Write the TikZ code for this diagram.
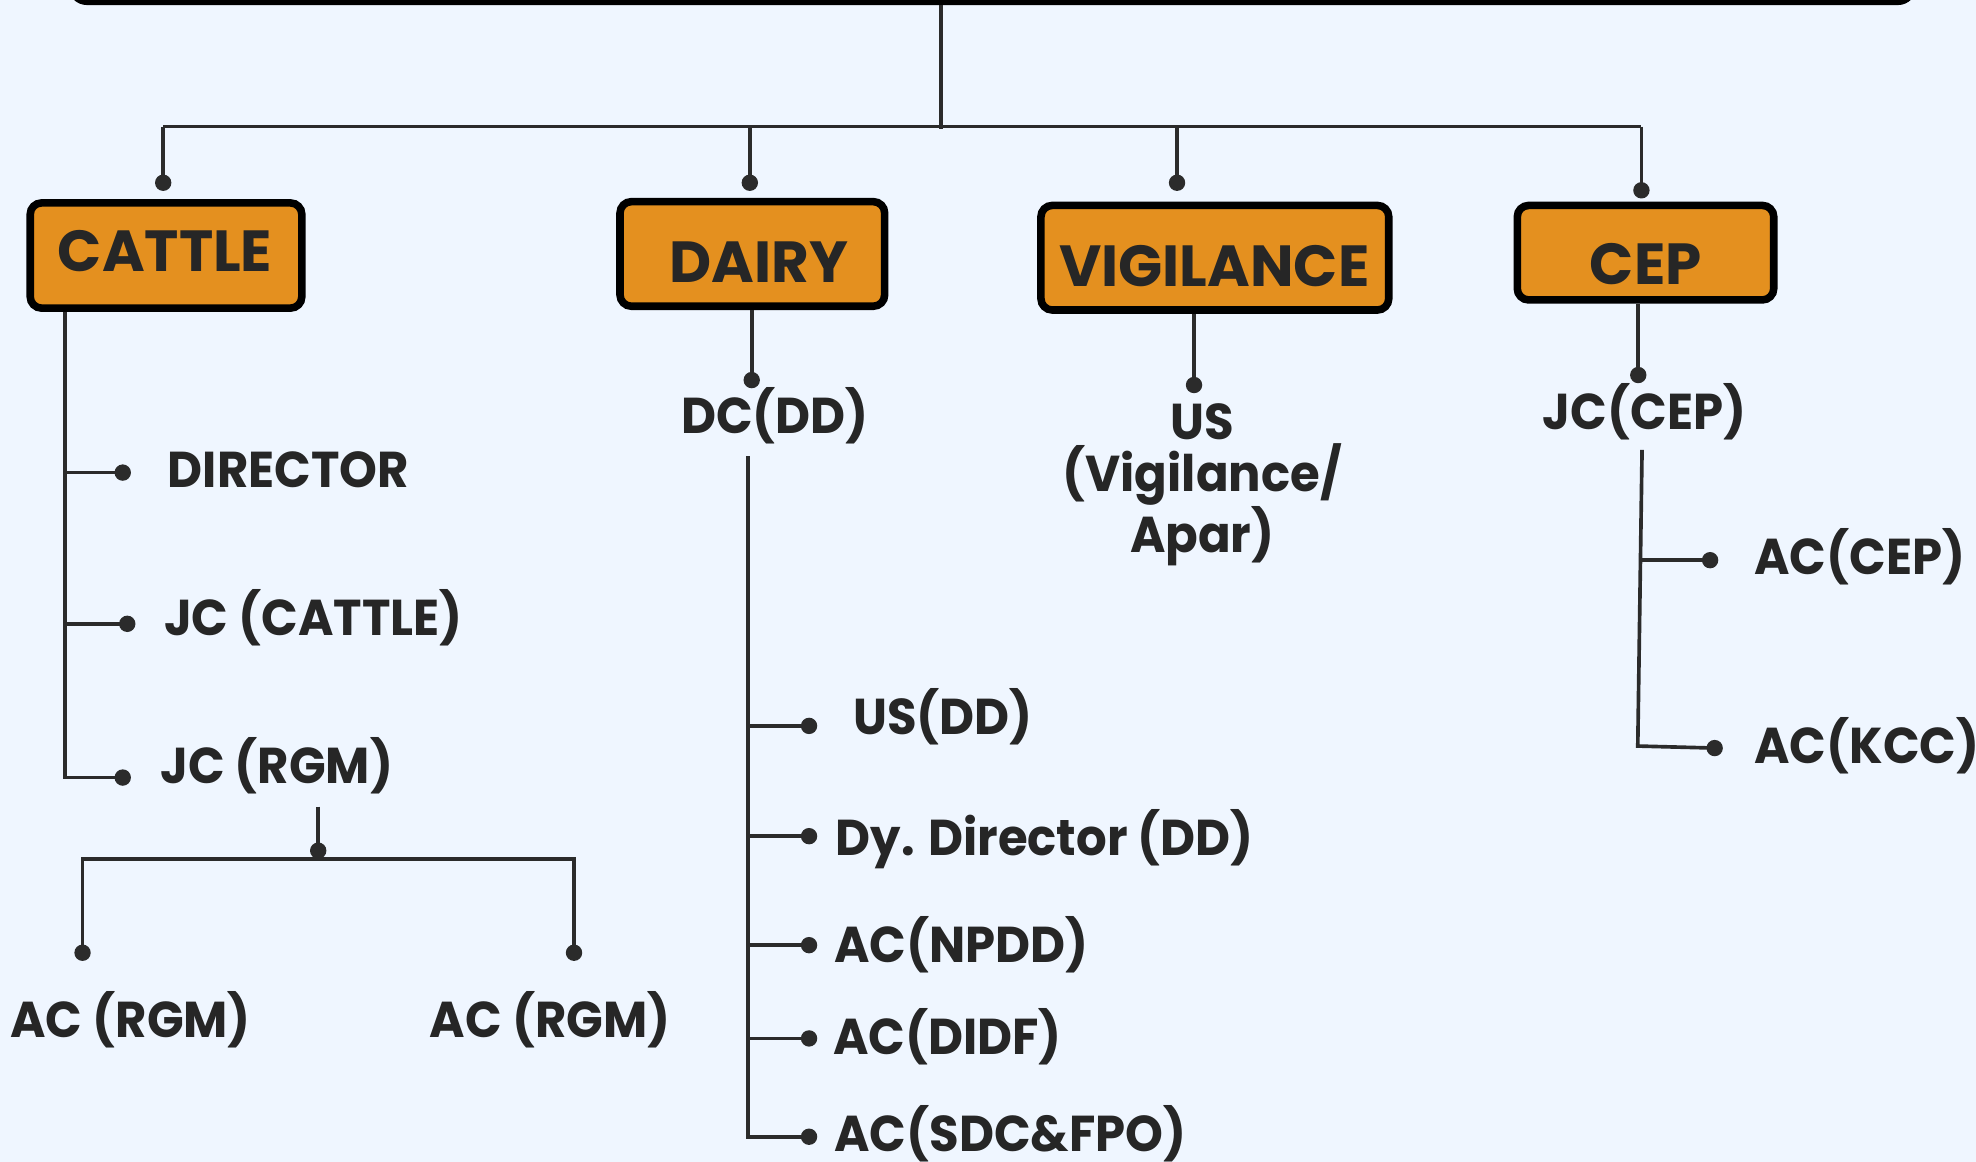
\documentclass[tikz,border=0pt]{standalone}
\usepackage{fontspec}
\setmainfont{Poppins}
\newfontfamily\lblfont{Poppins}[FakeStretch=0.955]
\definecolor{bg}{HTML}{EFF6FF}
\definecolor{ink}{HTML}{262626}
\definecolor{orangebox}{HTML}{E4901F}
\definecolor{wirec}{HTML}{2B2B2B}
\begin{document}
\begin{tikzpicture}[x=1pt,y=-1pt,
  wire/.style={draw=wirec, line width=2.9pt},
  dot/.style={circle, fill=wirec, draw=none, inner sep=0pt, minimum size=13pt},
  unitbox/.style={draw=black, line width=6pt, fill=orangebox, rounded corners=9pt, inner sep=0pt},
  unittext/.style={anchor=base, inner sep=0pt, text=ink, font=\fontsize{46}{50}\selectfont\bfseries},
  lbl/.style={anchor=base west, inner sep=0pt, text=ink, font=\lblfont\fontsize{40}{44}\selectfont\bfseries},
  lblc/.style={anchor=base, inner sep=0pt, text=ink, font=\lblfont\fontsize{40}{44}\selectfont\bfseries}
]
\fill[bg] (0,0) rectangle (1568,922);
\useasboundingbox (0,0) rectangle (1568,922);

% head box (mostly off the page)
\node[draw=black, line width=6pt, rounded corners=12pt, minimum width=1461pt, minimum height=200pt, inner sep=0pt] (head) at (787.5,-99) {};

% unit boxes
\node[unitbox, minimum width=215.5pt, minimum height=83.5pt] (cattle) at (131.75,202.75) {};
\node[unittext] (cattlet) at (131,215.6) {CATTLE};
\node[unitbox, minimum width=210pt, minimum height=83pt] (dairy) at (597,201.5) {};
\node[unittext] (dairyt) at (602,224.3) {DAIRY};
\node[unitbox, minimum width=276pt, minimum height=83pt] (vig) at (964,204.5) {};
\node[unittext] (vigt) at (963.6,227) {VIGILANCE};
\node[unitbox, minimum width=203.5pt, minimum height=75pt] (cep) at (1305.75,200.5) {};
\node[unittext] (cept) at (1306,226) {CEP};

% top bus
\coordinate (hub) at (746.5,102.5);
\coordinate (busl) at (129.5,100.5);
\coordinate (busr) at (1302.5,100.5);
\node[dot] (dcattle) at (129.5,145) {};
\node[dot] (ddairy) at (595,145) {};
\node[dot] (dvig) at (934,145) {};
\node[dot] (dcep) at (1302.5,151) {};
\draw[wire] (head.south -| hub) -- (hub);
\draw[wire] (busl) -- (busr);
\draw[wire] (busl) -- (dcattle.center);
\draw[wire] (ddairy |- busl) -- (ddairy.center);
\draw[wire] (dvig |- busl) -- (dvig.center);
\draw[wire] (busr) -- (dcep.center);

% CATTLE branch
\coordinate (cv) at (51.5,617);
\node[dot] (ddir) at (97.4,375) {};
\node[dot] (djcc) at (101,495) {};
\node[dot] (djcr) at (97.4,617) {};
\draw[wire] (cattle.south -| cv) -- (cv) -- (djcr.center);
\draw[wire] (ddir -| cv) -- (ddir.center);
\draw[wire] (djcc -| cv) -- (djcc.center);
\node[lbl] (director) at (133,387) {DIRECTOR};
\node[lbl] (jccattle) at (130,504) {JC (CATTLE)};
\node[lbl] (jcrgm) at (127,622) {JC (RGM)};

% RGM split
\coordinate (rgmtop) at (252.5,640);
\coordinate (splitbar) at (252.5,681.5);
\node[dot] (dsplit) at (252.5,675) {};
\node[dot] (dacl) at (65.5,756) {};
\node[dot] (dacr) at (455.5,756) {};
\draw[wire] (rgmtop) -- (dsplit.center);
\draw[wire] (dacl.center) -- (dacl |- splitbar) -- (dacr |- splitbar) -- (dacr.center);
\node[lbl] (acrgml) at (8,823.5) {AC (RGM)};
\node[lbl] (acrgmr) at (341,823.5) {AC (RGM)};

% DAIRY branch
\node[dot] (ddc) at (596.5,301.6) {};
\draw[wire] (dairy.south -| ddc) -- (ddc.center);
\node[lblc] (dcdd) at (615,344) {DC(DD)};
\coordinate (dvtop) at (593.5,362);
\node[dot] (dus) at (642,576) {};
\node[dot] (ddy) at (642,663.5) {};
\node[dot] (dnpdd) at (642,750) {};
\node[dot] (ddidf) at (642,824) {};
\node[dot] (dsdc) at (642,902) {};
\draw[wire] (dvtop) -- (dsdc -| dvtop) -- (dsdc.center);
\draw[wire] (dus -| dvtop) -- (dus.center);
\draw[wire] (ddy -| dvtop) -- (ddy.center);
\draw[wire] (dnpdd -| dvtop) -- (dnpdd.center);
\draw[wire] (ddidf -| dvtop) -- (ddidf.center);
\node[lbl] (usdd) at (677,583) {US(DD)};
\node[lbl] (dydir) at (663,679) {Dy. Director (DD)};
\node[lbl] (npdd) at (662,764) {AC(NPDD)};
\node[lbl] (didf) at (661,837) {AC(DIDF)};
\node[lbl] (sdc) at (662,914) {AC(SDC\&FPO)};

% VIGILANCE branch
\node[dot] (dusv) at (947.5,305.5) {};
\draw[wire] (vig.south -| dusv) -- (dusv.center);
\node[text=ink, inner sep=0pt, anchor=north, align=center, font=\lblfont\fontsize{40}{41}\selectfont\bfseries] (usvig) at (954,320) {US\\(Vigilance/\\Apar)};

% CEP branch
\node[dot] (djcep) at (1300,297.6) {};
\draw[wire] (cep.south -| djcep) -- (djcep.center);
\node[lblc] (jccep) at (1305,341) {JC(CEP)};
\coordinate (cvtop) at (1303,357);
\coordinate (cvbot) at (1299.6,592);
\coordinate (cvmid) at (1301.5,444.5);
\node[dot] (daccep) at (1357,444.5) {};
\node[dot] (dkcc) at (1360.6,593.6) {};
\draw[wire] (cvtop) -- (cvbot) -- (dkcc.center);
\draw[wire] (cvmid) -- (daccep.center);
\node[lbl] (accep) at (1392,456) {AC(CEP)};
\node[lbl] (ackcc) at (1392,606) {AC(KCC)};
\end{tikzpicture}
\end{document}
